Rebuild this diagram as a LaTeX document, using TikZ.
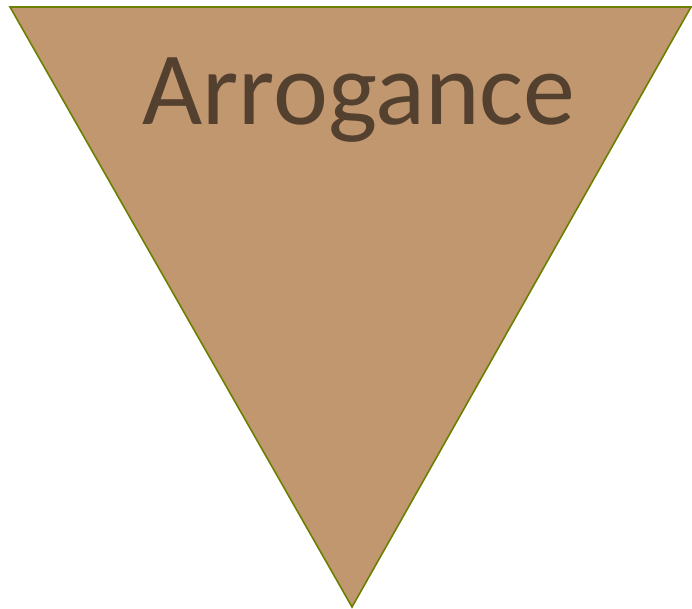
\documentclass[tikz,border=0pt]{standalone}
\usepackage{fontspec}
\setmainfont{Carlito}
\definecolor{tanfill}{HTML}{C19770}
\definecolor{olive}{HTML}{6B7F00}
\definecolor{txtbrown}{HTML}{54402F}
\begin{document}
\begin{tikzpicture}[x=1pt,y=1pt]
\useasboundingbox (0,0) rectangle (692,609);
\coordinate (tl) at (10,602);
\coordinate (tr) at (691,602);
\coordinate (bt) at (352,2);
\draw[fill=tanfill, draw=olive, line width=1.6pt, line join=miter] (tl) -- (tr) -- (bt) -- cycle;
\node[anchor=base, text=txtbrown, font=\fontsize{104}{110}\selectfont, inner sep=0pt] (lbl) at (359,484) {Arrogance};
\end{tikzpicture}
\end{document}
